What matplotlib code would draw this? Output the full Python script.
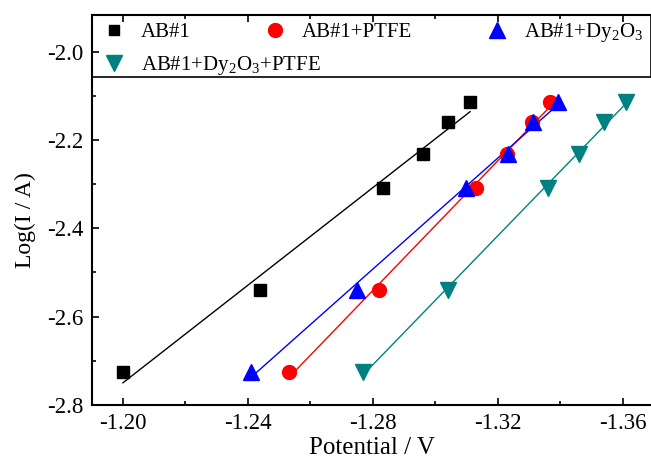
import numpy as np
import matplotlib
matplotlib.use("Agg")
import matplotlib.pyplot as plt
from matplotlib.lines import Line2D
from matplotlib.patches import Rectangle
from matplotlib.ticker import MultipleLocator

plt.rcParams['font.family'] = ['Liberation Serif', 'DejaVu Serif']
plt.rcParams['mathtext.fontset'] = 'custom'
plt.rcParams['mathtext.rm'] = 'Liberation Serif'

log_i = [-2.725, -2.539, -2.309, -2.232, -2.159, -2.114]
pot_ab1 = [-1.2000, -1.2440, -1.2831, -1.2960, -1.3040, -1.3111]
pot_ab1_ptfe = [-1.2532, -1.2820, -1.3130, -1.3229, -1.3310, -1.3367]
pot_ab1_dy = [-1.2411, -1.2749, -1.3098, -1.3232, -1.3311, -1.3392]
pot_ab1_dy_ptfe = [-1.2769, -1.3040, -1.3360, -1.3460, -1.3540, -1.3610]

labels = ['AB#1', 'AB#1+PTFE', r'AB#1+Dy$_2$O$_3$', r'AB#1+Dy$_2$O$_3$+PTFE']
colors = ['black', 'red', 'blue', '#008080']
markers = ['s', 'o', '^', 'v']
msizes = [9, 10, 11, 11]
leg_msizes = [7, 10, 11, 11]

fig = plt.figure(figsize=(6.51, 4.59), dpi=100)
ax = fig.add_axes([92/651, 54/459, (651-92)/651, 390/459])

series = [pot_ab1, pot_ab1_ptfe, pot_ab1_dy, pot_ab1_dy_ptfe]
for xs, c, m, ms in zip(series, colors, markers, msizes):
    xs = np.array(xs)
    ys = np.array(log_i)
    k, b = np.polyfit(xs, ys, 1)
    xf = np.array([xs.min(), xs.max()])
    ax.plot(xf, k*xf + b, color=c, lw=1.0, zorder=2)
    ax.plot(xs, ys, linestyle='none', marker=m, color=c, markersize=ms, zorder=3)

ax.set_xlim(-1.1901, -1.369)
ax.set_ylim(-2.8, -1.9172)
ax.xaxis.set_major_locator(MultipleLocator(0.04))
ax.xaxis.set_minor_locator(MultipleLocator(0.02))
ax.yaxis.set_major_locator(MultipleLocator(0.2))
ax.yaxis.set_minor_locator(MultipleLocator(0.1))
ax.xaxis.set_major_formatter(matplotlib.ticker.FormatStrFormatter('%.2f'))
ax.yaxis.set_major_formatter(matplotlib.ticker.FormatStrFormatter('%.1f'))
ax.tick_params(which='both', direction='in', top=True, right=False, labelsize=16.5, width=1.2)
ax.tick_params(which='major', length=5, pad=6)
ax.tick_params(which='minor', length=3)
ax.spines['right'].set_visible(False)
for s in ['left', 'bottom', 'top']:
    ax.spines[s].set_linewidth(1.5)

ax.set_xlabel('Potential / V', fontsize=18, labelpad=2)
ax.set_ylabel('Log(I / A)', fontsize=17)
ax.yaxis.set_label_coords(-0.10, 0.475)

handles = [Line2D([], [], linestyle='none', marker=m, color=c, markersize=ms)
           for m, c, ms in zip(markers, colors, leg_msizes)]

leg1 = ax.legend(handles[:3], labels[:3], ncol=3, loc='upper left',
                 bbox_to_anchor=(0.0, 1.0), frameon=False, fontsize=15,
                 handlelength=1.5, handletextpad=0.55, columnspacing=3.3,
                 borderaxespad=0.1, borderpad=0.2)
ax.add_artist(leg1)
leg2 = ax.legend(handles[3:], labels[3:], ncol=1, loc='upper left',
                 bbox_to_anchor=(0.0, 0.915), frameon=False, fontsize=15,
                 handlelength=1.5, handletextpad=0.55,
                 borderaxespad=0.1, borderpad=0.2)

y0 = (-2.0 - (77 - 51.6)/442 + 2.8) / (0.8828)
ax.add_patch(Rectangle((0, y0), 1.0, 1.0 - y0, transform=ax.transAxes,
                       fill=False, edgecolor='black', lw=1.2, zorder=5, clip_on=False))

fig.savefig('out.png', dpi=100)
